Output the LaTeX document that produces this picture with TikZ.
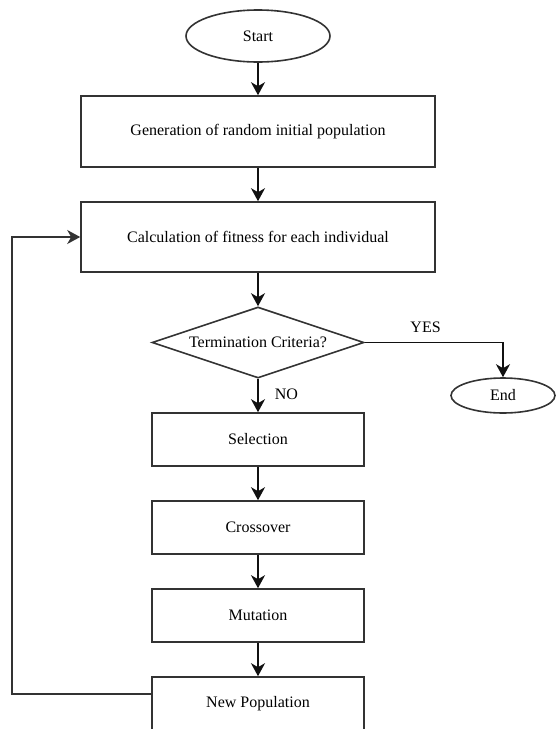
\documentclass[tikz,border=0pt]{standalone}
\usepackage{fontspec}
\setmainfont{Liberation Serif}
\usetikzlibrary{arrows.meta,positioning,shapes.geometric}
\definecolor{boxgray}{HTML}{333333}
\definecolor{flowblack}{HTML}{111111}
\tikzset{
  process/.style={rectangle,draw=boxgray,line width=1.6pt,minimum width=#1,minimum height=53pt,
    inner sep=0pt,align=center,font=\fontsize{16}{19}\selectfont},
  process/.default=212pt,
  terminal/.style={ellipse,draw=boxgray,line width=1.6pt,inner sep=0pt,align=center,
    font=\fontsize{16}{19}\selectfont},
  decision/.style={diamond,aspect=3,draw=boxgray,line width=1.6pt,minimum width=212pt,
    minimum height=71pt,inner sep=0pt,align=center,font=\fontsize{16}{19}\selectfont},
  arrow/.style={-{Stealth[length=13pt,width=14pt,inset=4pt]},line width=1.8pt,draw=flowblack},
  loopline/.style={-{Stealth[length=13pt,width=14pt,inset=4pt]},line width=1.6pt,draw=boxgray},
  tag/.style={inner sep=0pt,font=\fontsize{16}{19}\selectfont}
}
\begin{document}
\begin{tikzpicture}[x=1pt,y=1pt,node distance=33.4pt]
\useasboundingbox (0,0) rectangle (555,-729);
\node[terminal,minimum width=144pt,minimum height=52pt] (start) at (258,-36) {Start};
\node[process=354pt,minimum height=71pt,below=32.4pt of start] (init) {Generation of random initial population};
\node[process=354pt,minimum height=70pt,below=of init] (fitness) {Calculation of fitness for each individual};
\node[decision,below=of fitness] (term) {Termination Criteria?};
\node[process,below=of term] (select) {Selection};
\node[process,below=of select] (cross) {Crossover};
\node[process,below=of cross] (mutate) {Mutation};
\node[process,below=of mutate] (newpop) {New Population};
\node[terminal,minimum width=104pt,minimum height=35pt] (finish) at (503,-395.5) {End};
\coordinate (bend) at (12,-694);

\draw[arrow] (start) -- (init);
\draw[arrow] (init) -- (fitness);
\draw[arrow] (fitness) -- (term);
\draw[arrow] (term) -- node[tag,pos=0.45,right=16pt]{NO} (select);
\draw[arrow] (term.east) -| node[tag,pos=0.22,above=9pt]{YES} (finish.north);
\draw[arrow] (select) -- (cross);
\draw[arrow] (cross) -- (mutate);
\draw[arrow] (mutate) -- (newpop);
\draw[loopline] (newpop.west |- bend) -- (bend) |- (fitness.west);
\end{tikzpicture}
\end{document}
